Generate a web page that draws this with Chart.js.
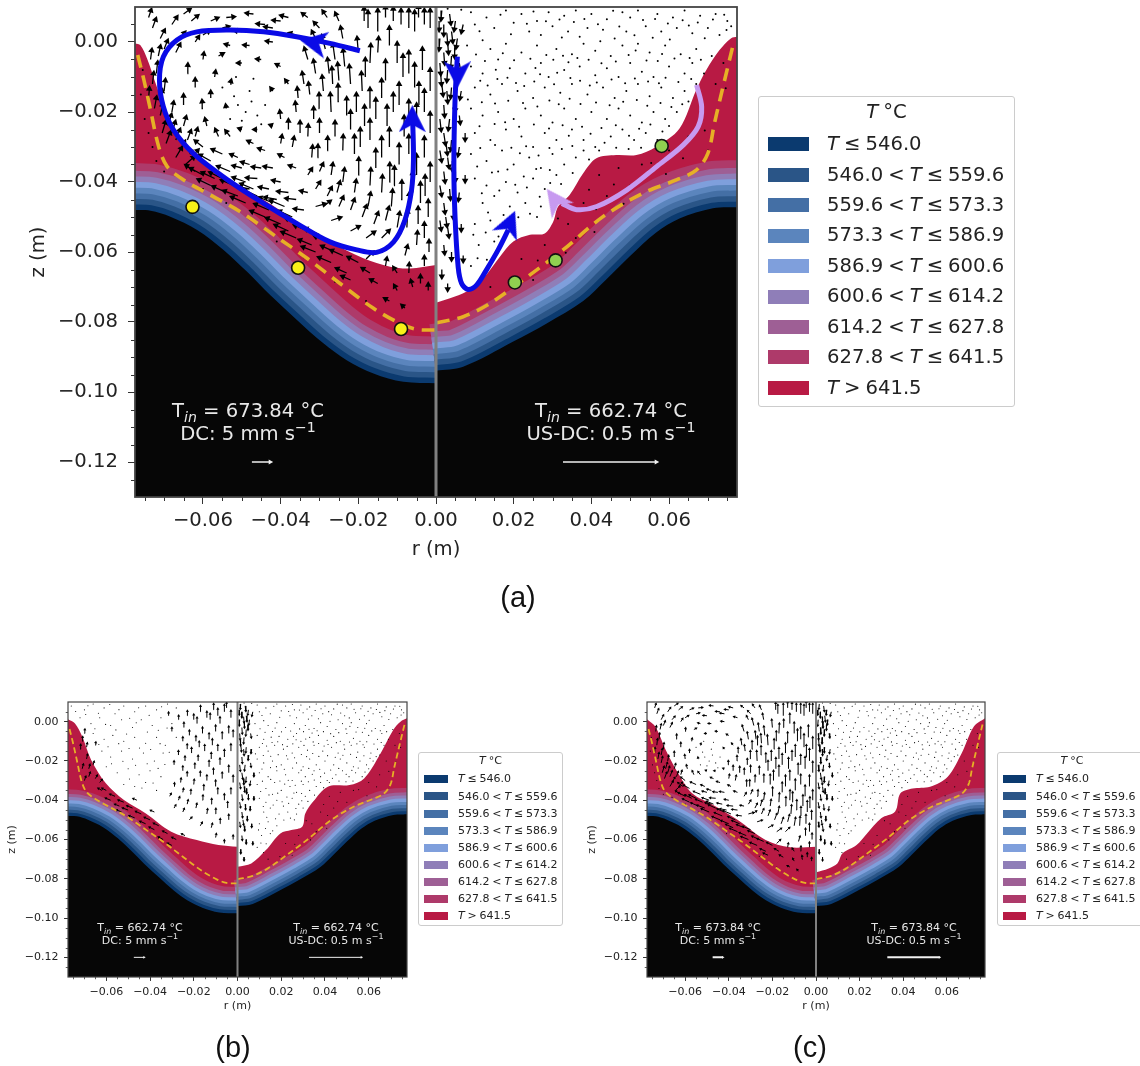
<!DOCTYPE html>
<html lang="en">
  <head>
    <meta charset="UTF-8" />
    <title>Melt pool temperature, DC and US-DC</title>
    <script src="https://cdn.jsdelivr.net/npm/chart.js"></script>
    <style>
      html, body { margin: 0; background: #fff; }
      #page { position: relative; width: 1140px; height: 1066px; overflow: hidden; font-family: "DejaVu Sans", sans-serif; color: #222; filter: blur(0.4px); }
      canvas { position: absolute; }
      .note { position: absolute; transform: translateX(-50%); text-align: center; color: #e8e8e8; white-space: nowrap; }
      .note sub, .note sup { line-height: 0; font-size: 72%; }
      .legend { position: absolute; box-sizing: border-box; background: #fff; border: 1px solid #ccc; border-radius: 3px; word-spacing: -0.06em; }
      .legend div { position: absolute; white-space: nowrap; }
      .caption { position: absolute; transform: translateX(-50%); font-family: "Liberation Sans", sans-serif; font-size: 29px; color: #111; }
    </style>
  </head>
  <body>
    <div id="page"></div>

    <script>
      // all lengths in mm, tick labels are printed in m like the original
      const rTicks = [-60, -40, -20, 0, 20, 40, 60];
      const zTicks = [0, -20, -40, -60, -80, -100, -120];
      const rMinor = [-75, -70, -65, -55, -50, -45, -35, -30, -25, -15, -10, -5, 5, 10, 15, 25, 30, 35, 45, 50, 55, 65, 70, 75];
      const zMinor = [5, -5, -10, -15, -25, -30, -35, -45, -50, -55, -65, -70, -75, -85, -90, -95, -105, -110, -115, -125];

      const tempEdges = [546.0, 559.6, 573.3, 586.9, 600.6, 614.2, 627.8, 641.5];
      const bandColors = ["#0b3a6f", "#2a5587", "#446fa5", "#5b85bd", "#7f9fdc", "#8f7eb8", "#9e5f95", "#ae3a6a", "#b81a44"];
      // distance of each isotherm from the solid wall
      const bandDepth = [1.5, 3, 4.5, 6, 7.6, 9.1, 10.6, 12.7];

      // solid wall (black area)
      const moldLeftR = [-82, -77.4, -73.5, -68.4, -61.5, -54.7, -48.7, -42.7, -35.8, -29, -23, -16.1, -8.4, 0];
      const moldLeftZ = [-48, -48, -48.2, -49.9, -53.7, -59.4, -65.6, -72.3, -79.4, -86.1, -90.9, -94.7, -97.1, -97.5];
      const moldRightR = [0, 7, 19.9, 28.5, 37.9, 43.9, 49.9, 56.7, 62.7, 71.3, 77, 82];
      const moldRightZ = [-93.9, -92.8, -85.6, -80.4, -74, -67.8, -61.2, -54.4, -50.4, -47.5, -47.2, -47.2];

      // dashed line
      const dashLeftR = [-76.8, -75.2, -73.5, -71.4, -69.2, -65, -58.1, -50.4, -41.8, -33.2, -24.7, -16.1, -9.3, -5, 0];
      const dashLeftZ = [-3.7, -10.9, -19.4, -29.9, -35.6, -39.4, -43.7, -48.5, -55.1, -61.8, -69, -76.1, -80.4, -82.1, -82.3];
      const dashRightR = [0.2, 7, 13.9, 22.4, 32.7, 43, 53.3, 61.9, 67, 70, 71.7, 73.9, 76.4];
      const dashRightZ = [-80.2, -78.5, -74.7, -68, -59.4, -49.9, -43.2, -39.4, -36.6, -31.8, -23.2, -12.8, -1.3];

      // free surface of the red zone, panel (a)
      const surfLeftAR = [-77.5, -76.1, -74.4, -72.2, -70.1, -67.5, -64.5, -59.8, -53, -44.4, -35.8, -27.2, -18.7, -11.8, -6.7, 0];
      const surfLeftAZ = [-0.4, -0.9, -4.7, -11.8, -18.5, -25.1, -29.9, -34.7, -39.9, -45.1, -51.3, -57.1, -61.8, -64.2, -64.7, -63.7];
      const surfRightAR = [0, 3.6, 7.9, 12.2, 16.5, 19.9, 24.2, 28, 30.2, 31.4, 34.4, 37.9, 41.3, 46.4, 51.6, 56.7, 62.7, 67, 69.6, 73, 76, 77.5];
      const surfRightAZ = [-74.5, -73.2, -71.3, -67.5, -61.3, -57, -55.1, -54.7, -51.3, -47.1, -43.7, -37.5, -33.2, -32.3, -32.3, -29.9, -24.7, -13.7, -8, -2.3, 1.1, 1.5];

      // panel (b)
      const surfLeftBR = [-77.5, -74.4, -71, -66.9, -60.2, -51.9, -41.9, -30.3, -18.6, -8.7, 0];
      const surfLeftBZ = [1.2, -0.8, -7.6, -19.5, -31.4, -39.9, -46.7, -56, -60.3, -62.8, -63.7];
      const surfRightBR = [0, 6.3, 13, 19.6, 24.6, 29.6, 31, 34.6, 41.3, 51.2, 57.9, 64.6, 71.2, 74.5, 77.5];
      const surfRightBZ = [-73.9, -72.2, -65.4, -56.9, -55.2, -53.5, -46.7, -40.7, -33.1, -32.3, -28.9, -17.8, -4.2, 0, 1.7];

      // panel (c)
      const surfLeftCR = [-77.5, -73.7, -68.9, -63.2, -56.8, -47.2, -36, -23.1, -11.9, 0];
      const surfLeftCZ = [1.2, -2.5, -14.4, -26.3, -36.5, -42.4, -50, -60.3, -64, -63.7];
      const surfRightCR = [0, 5.8, 9.8, 12.2, 18.6, 23.4, 29.9, 36.3, 38.7, 44.3, 52.3, 60.4, 66.8, 72.4, 77.5];
      const surfRightCZ = [-76.7, -74.7, -72.2, -67, -62.8, -56.9, -49.2, -45.8, -36.5, -34, -33.1, -28, -16.1, -2.5, 1.7];

      // drawn flow lines in panel (a)
      const loopR = [-19.6, -27.3, -35.9, -44.4, -53, -61.6, -66.7, -70.2, -71.2, -70.2, -67.6, -62.5, -53, -44.4, -35.9, -27.3, -20.4, -15.3, -10.9, -8, -6.3, -5.8, -6];
      const loopZ = [-2.5, -0.4, 1.5, 2.9, 3.4, 2.9, 0.6, -4.2, -10.9, -18.5, -25.1, -31.8, -39.9, -46.1, -51.8, -57.1, -59.4, -60.1, -57.1, -50.9, -42.3, -33.7, -22.3];
      const plungeR = [5.5, 4.9, 4.6, 4.9, 5.7, 6.6, 8.3, 10.5, 13, 16, 18.6];
      const plungeZ = [-4.2, -16.6, -35.6, -49.9, -64.2, -69, -70.7, -69.4, -65.1, -59.4, -53.7];
      const sweepR = [67.1, 68.4, 67.5, 63.7, 56.8, 49.1, 41.4, 36.2, 32.4];
      const sweepZ = [-12.3, -18.5, -24.2, -29.4, -35.6, -42.3, -47, -47.9, -46.1];
      const blueHeadR = [-31.6, -6.1, 5.5, 19];
      const blueHeadZ = [-0.2, -21.9, -9.4, -51.8];
      const blueHeadAngle = [-79, 0, 180, 23];
      const lilacHeadR = [30.6];
      const lilacHeadZ = [-45.1];
      const lilacHeadAngle = [-36];

      const yellowR = [-62.7, -35.5, -9];
      const yellowZ = [-47.1, -64.5, -82];
      const greenR = [20.3, 30.8, 58.1];
      const greenZ = [-68.7, -62.4, -29.7];

      // scale arrows printed in the black area: r, z, dr, dz
      const keyArrows = [[-47.4, -120, 4.7, 0], [32.7, -120, 24, 0]];

      // quiver, strong vortex on the DC side: r, z, dr, dz
      const vortexArrows = [
        [-17.5, 4, 0, 4.5], [-15, 3, 0, 6], [-11, 6, 0, 3.5], [-9, 5, 0, 4], [-7, 4, 0, 5], [-5.5, 3, 0, 5.5], [-3, 5, 0, 4], [-1.5, 4, 0, 5],
        [-17, -6, 0.2, 5], [-15, -3, 0.2, 4], [-10, -6, 0, 5.5], [-8.5, -10, 0, 6], [-7, -9, 0, 6], [-5.5, -13, 0, 6.5], [-3.5, -8, 0, 6], [-1.5, -14, 0, 6],
        [-11, -20, 0, 5], [-9.5, -18, 0, 6], [-7, -22, 0, 5], [-5, -24, 0, 6], [-3, -20, 0, 6], [-1.5, -26, 0, 5.5], [-14, -16, 0, 5], [-17, -19, 0, 5.5],
        [-19, -14, -0.2, 5], [-22, -12, -0.3, 5], [-23.5, -7, -0.4, 4.5], [-26, -5, -0.5, 4], [-28.5, -2, -0.8, 3.5], [-20, -3, -0.3, 4],
        [-25, -17, -0.2, 4.5], [-27, -20, -0.2, 5], [-29, -14, -0.3, 4], [-31, -9, -0.5, 3.5], [-33, -5, -0.8, 3], [-32.5, -15, -0.3, 3], [-34, -12, -0.4, 3],
        [-22, -25, 0, 5], [-19.5, -30, 0, 5], [-17, -28, 0, 5.5], [-14, -33, 0, 5.5], [-12, -30, 0, 5], [-9.5, -35, 0, 5.5], [-7, -32, 0, 5], [-5, -38, 0, 5.5], [-3, -33, 0, 5.5], [-1.5, -40, 0, 5],
        [-24, -31, 0.1, 4], [-26, -27, 0, 4], [-28, -31, 0.1, 3.5], [-30, -26, 0, 3.5], [-31.5, -22, 0, 3], [-33, -27, 0.1, 3], [-36, -20, -0.2, 2.5], [-38, -25, 0, 2.5], [-40, -22, -0.2, 2], [-37, -30, 0.4, 2.5], [-40, -29, 0.3, 2],
        [-20, -38, 0.1, 4.5], [-17, -41, 0.2, 4.5], [-14, -43, 0.2, 4.5], [-12, -40, 0.1, 5], [-9, -45, 0.2, 5], [-7, -48, 0.1, 4.5], [-4, -46, 0, 5.5], [-2, -50, 0, 4.5], [-24, -40, 0.4, 3.5], [-27, -38, 0.4, 3],
        [-10, -53, 0.6, 4], [-13, -51, 0.8, 3.5], [-16, -52, 1, 3], [-19, -50, 1, 3], [-22, -48, 0.9, 2.8], [-25, -47, 1, 2.5], [-28, -44, 1, 2.2], [-31, -42, 1, 1.8], [-30, -37, 0.8, 2], [-33, -38, 0.9, 1.6],
        [-5, -58, 0.2, 3.5], [-8, -61, 0.6, 2.5], [-3, -56, 0, 4], [-14, -56, 1.8, 2], [-18, -56, 2, 1.6], [-22, -54, 2, 1.2], [-27, -51, 2.2, 0.8], [-31, -47, 2.2, 0.7],
        [-34, -48, -2.2, 0.3], [-38, -43, -2.5, 0.3], [-43, -42, -2.2, 0.5], [-46, -39, -2.5, 0.2], [-36, -36, -1.5, 0.6], [-42, -36, -2, 0.4], [-48, -35, -1.8, 0.6], [-51, -33, -1.6, 0.8], [-44, -31, -1.4, 0.5], [-47, -29, -1.2, 0.6],
        [-56, -27, -0.7, 1.8], [-59, -24, -0.4, 1.8], [-53, -27, -1, 1.4], [-60, -19, -0.2, 2], [-62, -13, 0, 2.2], [-64, -9, 0.1, 2.4], [-58, -16, 0, 1.6], [-65, -18, 0, 2.6], [-57, -10, 0.2, 1.4],
        [-71, 1, 1, 2.2], [-73, 4, 0.8, 2.4], [-68, 5, 1.2, 2], [-66, 1, 1.2, 1.6], [-70, -2, 0.8, 2.2], [-63, 6, 1.5, 1.4], [-60, 2, 1.4, 1], [-58, 6, 1.6, 0.8],
        [-54, 7, 1.8, 0.2], [-50, 3, -1.6, 0.2], [-47, 8, -1.6, 0.2], [-44, 5, -1.8, 0.2], [-42, 0, -1.4, 0.2], [-38, 7, -1.7, 0.5], [-36, 2, -1.5, 0.5], [-33, 7, -1.2, 1], [-30, 4, -1.2, 1.4], [-48, -1, -1.2, 0.1], [-53, -1, -1, 0.3], [-25, 6, -0.8, 2],
        [-56, -4, 1, 0.6], [-50, -6, -0.8, 0], [-45, -5, -0.9, 0.1], [-40, -7, -0.9, 0.5], [-38, -12, -0.6, 0.9], [-42, -14, -0.4, 0.6], [-53, -12, 0.2, 0.8], [-54, -19, -0.1, 0.7], [-50, -25, -0.5, 0.2], [-46, -25, -0.6, 0], [-42, -24, -0.5, 0.2],
        [-68, -20, 0.4, 2.6], [-70, -14, 0.3, 3], [-72, -9, 0.3, 3], [-71, -17, 0.5, 3], [-69, -24, 0.8, 3], [-67, -28, 1, 2.8], [-65, -24, 0.6, 2.4], [-66, -31, 1.2, 2.4], [-63, -33, 1.6, 2], [-72.5, -19, 0.5, 3], [-70.5, -26, 0.8, 3],
        [-60, -30, -1.8, 1.6], [-58, -34, -2.6, 1.6], [-55, -32, -2.4, 1.2], [-62, -37, -2.2, 1.6], [-57, -39, -3, 1.6], [-53, -37, -3, 1.4], [-49, -40, -3, 1.2], [-51, -44, -3.4, 1.4], [-46, -44, -3.2, 1.6], [-43, -48, -3.4, 1.6], [-39, -47, -3.4, 1.6], [-35, -52, -3.4, 1.6], [-38, -54, -3.2, 1.6], [-30, -55, -3.4, 1.6], [-26, -60, -3.2, 1.6], [-32, -58, -3, 1.4],
        [-20, -63, -2.4, 1.4], [-15, -69, -1.6, 1], [-22, -68, -2, 1], [-10, -66, -0.8, 1.4], [-6, -70, -0.4, 1.6], [-3, -64, 0, 2.4], [-12, -74, -1, 0.6], [-8, -76, -0.6, 0.6], [-18, -62, 1.6, 1.8],
        // second pass over the denser clumps
        [-18.5, 6, 0, 3.5], [-13, 7, 0, 2.8], [-4.5, 7, 0, 3], [-12, -1, 0, 5], [-18.2, -10, 0, 5], [-13, -11, 0, 5.5], [-4.4, -18, 0, 6], [-8.2, -27, 0, 5.5], [-12.6, -24, 0, 5.5], [-15.5, -22, 0, 5.5], [-18.4, -24, 0, 5.5],
        [-20.5, -20, 0, 5], [-21, -32, 0, 5], [-23, -21, 0, 4.8], [-26.6, -12, -0.2, 4.4], [-25, -11, -0.3, 4.6], [-27.5, -9, -0.4, 4], [-30, -19, -0.1, 4], [-30.5, -33, 0.1, 3.2], [-32, -33, 0.2, 3], [-35, -26, 0, 3], [-35.5, -16, -0.2, 2.6],
        [-15.5, -36, 0, 5], [-10.8, -41, 0.1, 5], [-6, -43, 0, 5.5], [-2.8, -44, 0, 5.5], [-7.5, -53, 0.2, 4.5], [-4.6, -52, 0, 4.5], [-11.5, -47, 0.3, 4.4], [-17.5, -47, 0.6, 3.6], [-21, -43, 0.4, 3.2], [-25.5, -43, 0.7, 2.8], [-29, -47, 1.6, 1.4],
        [-40, -40, -1.8, 0.4], [-45, -36, -2, 0.3], [-50, -36, -2, 0.6], [-39, -33, -1.2, 0.7], [-33, -43, -1.6, 0.4], [-36, -45, -2.4, 0.3], [-48, -42, -2.6, 0.6], [-41, -45, -2.8, 0.6],
        [-71.5, -4, 0.5, 2.6], [-67, -3, 1, 2.2], [-74, 7, 0.6, 2], [-65, 8, 1.5, 1.2], [-62, 0, 0.8, 1.4], [-60, -5, 0.2, 1.6], [-55, 4, 1.4, 0.4], [-42, 4, -1.8, 0.3], [-40, 6, -1.7, 0.2], [-28, 7, -1, 1.6], [-31, 1, -0.8, 1.8], [-24, 1, -0.5, 3],
        [-73, -12, 0.3, 3], [-74, -16, 0.2, 2.6], [-73.5, -5, 0.3, 2.6], [-71, -21, 0.6, 3], [-69.5, -29, 1, 3], [-68, -26, 0.8, 3], [-67, -33, 1.4, 2.6], [-64.5, -35, 2, 2], [-64, -28, 0.8, 2.4], [-62, -27, 0.5, 2],
        [-61, -33, -2.2, 1.8], [-60, -38, -3, 1.8], [-58, -41, -3, 1.6], [-55, -39, -3, 1.6], [-54, -43, -3.2, 1.6], [-52, -41, -3, 1.4], [-49, -46, -3.4, 1.6], [-47, -42, -3, 1.4], [-44, -50, -3.4, 1.6], [-42, -46, -3.2, 1.5], [-40, -52, -3.4, 1.6], [-37, -50, -3.2, 1.6], [-36, -56, -3.4, 1.6], [-33, -54, -3.2, 1.5], [-31, -60, -3.2, 1.4], [-28, -57, -3, 1.4], [-27, -63, -3, 1.4], [-24, -61, -2.8, 1.4], [-23, -66, -2.4, 1.2], [-17, -66, -1.8, 1.2],
        [-13, -64, 0.3, 2], [-7, -66, 0.1, 2.4], [-4, -69, 0, 2], [-1.8, -60, 0, 3], [-10, -71, -0.6, 1.2], [-2, -71, 0, 1.6]
      ];

      // quiver, weak stirring in panel (b)
      const weakArrows = [
        [-3, 2, 0, 3.5], [-6, 5, 0, 3.5], [-9, 3, 0, 3.5], [-11, 6, 0.1, 3], [-14, 2, 0, 3], [-17, 5, 0.1, 3], [-20, 1, 0, 2.6], [-23, 3, 0.1, 2.4],
        [-4, -6, 0, 3.5], [-7, -9, 0, 3.5], [-10, -5, 0, 3], [-13, -9, 0, 3], [-16, -6, 0, 3], [-19, -10, 0, 2.5], [-22, -7, 0, 2.5], [-25, -10, 0, 2],
        [-3, -15, 0, 3.5], [-6, -18, 0, 3.5], [-9, -15, 0, 3], [-12, -19, 0, 3], [-15, -15, 0, 3], [-18, -20, 0, 2.6], [-21, -16, 0, 2.5], [-24, -20, 0, 2.2], [-27, -17, 0, 2], [-29, -22, 0, 1.8],
        [-4, -26, 0, 3.5], [-7, -29, 0, 3], [-11, -27, 0, 3], [-14, -30, 0, 2.6], [-17, -28, 0, 2.5], [-20, -32, 0.2, 2.4], [-23, -28, 0, 2.2], [-26, -31, 0.2, 2], [-29, -33, 0.2, 1.6],
        [-3, -37, 0, 3], [-6, -40, 0, 3], [-9, -37, 0, 3], [-12, -42, 0.2, 2.6], [-16, -40, 0.2, 2.4], [-19, -44, 0.4, 2.2], [-23, -42, 0.4, 2], [-27, -40, 0.5, 1.6], [-31, -38, 0.6, 1.3],
        [-4, -50, 0, 2.6], [-8, -52, 0.1, 2.4], [-12, -54, 0.5, 2], [-17, -53, 0.8, 1.6], [-22, -50, 1, 1.2], [-2, -60, 0, 2], [-6, -62, 0, 1.6],
        [-70, -6, 0.2, 2], [-72, -14, 0.3, 2.2], [-69, -19, 0.4, 2.2], [-71, -24, 0.5, 2.2], [-68, -28, 0.6, 2], [-66, -22, 0.4, 1.6], [-65, -12, 0.2, 1.4], [-63, -31, 1, 1.4], [-60, -35, -1.8, 1],
        [-56, -38, -2.2, 1], [-52, -41, -2.4, 1], [-48, -44, -2.4, 1.1], [-44, -47, -2.4, 1.2], [-40, -50, -2.4, 1.2], [-36, -53, -2.2, 1.2], [-32, -57, -2, 1.2], [-28, -60, -1.8, 1], [-54, -43, -2, 0.9], [-46, -40, -1.6, 0.8], [-38, -46, -1.6, 0.8],
        // second pass
        [-5, 7, 0, 2.6], [-12.5, 1, 0, 3], [-18.5, -1, 0, 3], [-24.5, -3, 0, 2.4], [-27, 1, 0.1, 2], [-30, -5, 0, 1.8], [-31.5, 3, 0, 1.6], [-8, -1, 0, 3.2], [-2, -8, 0, 3.4], [-11.5, -12, 0, 3], [-17.5, -13, 0, 2.8], [-23, -14, 0, 2.4], [-8, -22, 0, 3.2], [-13, -23, 0, 3], [-19.5, -24, 0, 2.6], [-25, -25, 0, 2.2], [-2, -31, 0, 3.4], [-10, -33, 0, 3], [-15.5, -35, 0.1, 2.6], [-21.5, -37, 0.2, 2.2], [-25, -36, 0.3, 1.8], [-4.5, -44, 0, 3], [-10, -47, 0.1, 2.6], [-14, -47, 0.3, 2.4], [-25, -46, 0.6, 1.6], [-29, -44, 0.7, 1.4], [-10, -59, 0.3, 1.8],
        [-71, -10, 0.2, 2.2], [-69, -13, 0.3, 2], [-68, -24, 0.5, 2], [-65, -29, 0.8, 1.6], [-70, -30, 0.6, 2], [-62, -35, -1.6, 1], [-58, -40, -2.2, 1], [-50, -45, -2.4, 1], [-47, -49, -2.4, 1.1], [-42, -52, -2.4, 1.2], [-38, -55, -2.2, 1.2], [-34, -60, -2, 1.2], [-30, -63, -1.8, 1], [-24, -58, -1.4, 0.8], [-53, -46, -2.2, 1]
      ];

      // quiver next to the axis on the US-DC side, shared by all panels
      const jetArrows = [
        [1.5, 9, -0.2, -2.4], [3.5, 8, 0.3, -2.6], [5, 6, -0.3, -2.4], [2, 5, 0, -2.8], [4, 3, 0.3, -2.8], [1, 1, -0.2, -3], [3, 0, 0.2, -3], [5.5, 1, -0.3, -2.4], [7, 5, -0.4, -2], [2, -3, 0.2, -3],
        [4, -4, -0.2, -3], [1, -6, 0.2, -3], [3, -8, -0.2, -3], [6, -6, 0.3, -2], [1.5, -12, 0.3, -3], [4, -13, -0.2, -2.6], [6.5, -14, -0.3, -2], [2, -18, 0.2, -3], [1, -22, 0.3, -3], [3.5, -22, -0.3, -2.8],
        [6, -21, 0.2, -2], [2, -26, 0.4, -3], [4, -28, -0.2, -2.6], [1, -31, 0.4, -2.8], [3, -33, 0.3, -2.6], [6, -30, -0.3, -2.2], [2, -37, 0.3, -2.8], [5, -37, 0, -2.4], [1, -41, 0.4, -2.6], [3.5, -42, 0.2, -2.6],
        [6, -43, -0.2, -2], [2, -46, 0.3, -2.6], [4.5, -48, 0, -2.2], [1, -51, 0.3, -2.4], [3, -53, 0.3, -2.4], [2, -58, 0.2, -2.2], [4, -60, 0, -2], [1.5, -65, 0, -2], [3, -69, 0, -1.6],
        [0.8, 6, 0, -2.4], [2.8, 2.5, 0.2, -2.8], [4.8, -1.5, 0, -2.6], [1.2, -9, 0.2, -3], [2.8, -14, 0.2, -3], [5.2, -17, -0.3, -2.4], [2.6, -29, 0.3, -2.8], [7.5, -26, 0, -1.8], [4.2, -34, 0, -2.4], [7.5, -38, 0, -1.6], [2.5, -50, 0.3, -2.4], [6.5, -52, 0, -1.6], [7, -61, 0, -1.4]
      ];

      // small dots: almost still melt on the US-DC side, r, z
      const stillDots = [
        [3, 9.5], [9, 8.5], [13, 7], [18, 9], [22, 8], [26, 6], [29, 8.5], [33, 7.5], [36, 9], [40, 8], [44, 6.5], [48, 8.5], [50, 7], [52, 9], [57, 8], [61, 7], [64, 9], [68, 7.5], [72, 8], [75, 6],
        [10, 5], [15, 4], [20, 5.5], [24, 3], [27, 2], [30, 4.5], [34, 3], [37, 1.5], [39, 4], [43, 3.5], [46, 1], [49, 3], [54, 4.5], [58, 3], [62, 4], [66, 2.5], [70, 4], [73, 2], [76, 4.5], [12, 0.5],
        [8, -1], [14, -2], [18, -0.5], [22, -3], [26, -1], [31, -2], [35, -3.5], [38, -0.5], [41, -2.5], [45, -4], [48, -1], [52, -0.5], [55, -3], [59, -1], [63, -3.5], [67, -2], [71, -4], [16, -5],
        [9, -7], [12, -9], [19, -7.5], [23, -9], [27, -6], [29, -10], [33, -8], [37, -7], [41, -9.5], [44, -7.5], [47, -10], [50, -6], [53, -8.5], [56, -10], [60, -7], [64, -9], [66, -6], [69, -9],
        [10, -13], [14, -15], [17, -12], [21, -14], [25, -16], [28, -13], [32, -14.5], [35, -12], [39, -15], [43, -13], [46, -16], [49, -14], [52, -12], [55, -15.5], [58, -13], [61, -16], [64, -14], [67, -12],
        [9, -19], [12, -21], [16, -20], [20, -22], [23, -19], [27, -21], [30, -23], [33, -19], [36, -22], [40, -20], [44, -22], [47, -19], [50, -21], [53, -23], [56, -20], [59, -22], [62, -20], [65, -17],
        [10, -26], [14, -28], [18, -25], [22, -27], [25, -30], [28, -26], [31, -28], [35, -25], [38, -28], [41, -30], [45, -27], [48, -25], [51, -28], [54, -26], [57, -28], [60, -24],
        [9, -32], [13, -34], [17, -31], [20, -35], [24, -33], [27, -36], [30, -32], [33, -35], [36, -33], [38, -31], [42, -31], [16, -37],
        [10, -39], [13, -41], [18, -40], [21, -43], [25, -39], [28, -42], [31, -38], [12, -46], [15, -44], [19, -47], [23, -46], [27, -47], [30, -44], [26, -50], [10, -52], [14, -51], [18, -53], [11, -58], [15, -57], [9, -64],
        [42, -38], [47, -36], [53, -35], [50, -41], [38, -46], [44, -44], [34, -52], [28, -58], [22, -62], [36, -56], [60, -31], [65, -27], [68, -20], [72, -12], [74, -6], [70, -31], [14, -70], [25, -68],
        // second pass, clumps between the rows above
        [6.5, 9.2], [11.2, 3.1], [16.6, 7.8], [19.3, 2.2], [23.4, 5.2], [25.1, 8.7], [28.3, 5.9], [31.8, 6.4], [32.4, 1.3], [35.5, 5.7], [38.2, 6.6], [41.7, 5.1], [42.3, 0.2], [45.6, 8.9], [47.2, 4.4], [51.1, 1.9], [53.3, 6.3], [55.8, 1.2], [56.4, 6.6], [59.7, 5.3], [60.2, 0.7], [63.5, 6.2], [65.1, 4.7], [67.4, 5.6], [69.2, 1.1], [71.3, 6.4], [74.2, 7.8], [74.8, 3.4],
        [10.3, -3.6], [12.6, -5.4], [15.4, -7.9], [17.2, -3.2], [20.1, -5.2], [24.3, -4.8], [25.6, -7.4], [28.4, -3.7], [30.2, -5.1], [32.7, -3.9], [34.1, -5.8], [36.4, -4.6], [39.3, -5.1], [42.6, -6.1], [46.3, -5.6], [49.6, -3.7], [51.4, -2.4], [54.2, -5.3], [57.1, -5.4], [58.2, -3.4], [61.4, -4.7], [65.3, -4.6], [68.2, -5.1],
        [11.4, -11.1], [13.3, -12.4], [15.8, -10.6], [18.4, -10.2], [20.6, -11.7], [22.7, -12.6], [25.3, -11.3], [26.8, -9.2], [30.4, -12.1], [31.2, -8.8], [34.6, -10.3], [37.1, -11.1], [39.6, -12.4], [41.4, -11.6], [45.2, -10.7], [48.7, -11.8], [51.2, -10.4], [54.6, -11.3], [57.4, -11.8], [59.1, -10.2], [62.4, -11.4], [65.7, -10.6],
        [8.2, -16.4], [11.8, -17.2], [15.2, -17.6], [18.6, -16.8], [22.4, -17.4], [26.1, -18.4], [29.2, -16.7], [31.6, -17.8], [34.4, -16.2], [37.2, -17.7], [41.2, -17.3], [44.7, -18.1], [48.2, -17.1], [51.7, -16.6], [54.4, -18.2], [57.8, -17.4], [60.6, -18.6], [63.4, -17.8],
        [11.2, -24.1], [15.1, -23.4], [17.8, -22.9], [21.4, -24.2], [25.2, -23.6], [29.1, -24.7], [32.6, -23.8], [34.2, -26.8], [37.6, -24.2], [39.8, -26.2], [42.6, -24.6], [46.3, -23.8], [49.7, -26.8], [52.3, -24.8], [55.2, -23.6], [58.3, -25.6],
        [11.4, -30.3], [15.2, -29.4], [19.4, -30.2], [21.6, -31.8], [23.2, -29.8], [26.4, -32.4], [29.2, -30.3], [32.4, -30.6], [35.1, -29.7], [39.4, -33.6], [43.4, -28.8], [46.4, -30.2], [49.6, -30.6], [52.8, -30.2],
        [10.6, -35.6], [14.4, -37.3], [18.4, -36.4], [22.6, -38.4], [25.8, -36.3], [29.3, -36.6], [32.2, -40.6], [35.2, -37.4], [11.8, -43.2], [16.3, -42.4], [20.4, -40.8], [23.4, -41.6], [26.7, -44.2], [29.4, -40.3], [13.4, -48.7], [17.4, -49.4], [21.2, -50.1], [24.2, -49.1], [9.6, -55.1], [12.8, -54.4], [16.1, -55.6], [10.7, -61.8], [13.1, -62.2], [11.9, -66.6],
        [39.4, -42.2], [45.8, -40.7], [55.4, -34.6], [59.2, -37.7], [63.6, -33.2], [31.4, -50.4], [41.2, -47.8], [48.3, -46.2], [26.2, -62.4], [33.4, -60.2], [40.8, -54.3], [19.4, -68.7], [69.2, -25.3], [72.4, -20.6], [74.6, -13.2]
      ];

      // small dots near the vortex eye and inside the red zone, panels (a) and (c)
      const vortexDots = [
        [-51, -18], [-49, -20], [-47.5, -17], [-50, -22.5], [-46, -21], [-52, -15.5], [-48, -14], [-44, -18], [-53, -22], [-45, -23.5], [-55, -13], [-51.5, -10], [-47, -10.5],
        [-74, -26], [-73, -30], [-75, -22], [-72, -34], [-70, -37], [-66, -38.5], [-60, -42], [-54, -46], [-48, -50], [-41, -57], [-34, -61.5], [-26, -68.5], [-18, -74], [-76, -15], [-75.5, -8]
      ];

      // small dots in the weak part of panel (b)
      const weakDots = [
        [-76, 8], [-70, 6], [-66, 9], [-61, 7], [-56, 4], [-52, 8], [-47, 5], [-42, 8], [-37, 6], [-32, 9], [-28, 7], [-72, 2], [-67, -1], [-63, 2], [-58, -2], [-53, 1], [-48, -3], [-44, 1], [-39, -2], [-35, 2], [-30, -1],
        [-66, -6], [-61, -9], [-57, -7], [-52, -10], [-47, -8], [-42, -11], [-37, -8], [-33, -12], [-28, -8], [-62, -15], [-58, -18], [-53, -15], [-48, -19], [-43, -16], [-38, -20], [-34, -16], [-60, -23], [-55, -26], [-50, -24], [-45, -27], [-40, -25], [-35, -28], [-52, -32], [-47, -33], [-42, -31], [-37, -35],
        [-74, 5.2], [-68.4, 8.1], [-63.6, 4.3], [-58.4, 8.7], [-54.2, 6.1], [-49.3, 1.7], [-45.2, 7.1], [-40.4, 3.2], [-34.7, 7.6], [-69.4, 3.6], [-65.2, -3.6], [-60.3, -1.4], [-55.6, -4.2], [-50.7, -6.3], [-46.3, -0.6], [-41.2, -5.3], [-36.2, -4.4], [-32.2, -3.2], [-63.4, -11.6], [-59.2, -12.8], [-54.3, -11.2], [-49.6, -13.7], [-44.8, -13.4], [-39.7, -14.2], [-35.4, -11.2], [-31.2, -15.6], [-57.6, -21.4], [-52.4, -20.2], [-46.6, -22.2], [-41.3, -21.4], [-36.3, -23.8], [-33.2, -21.8], [-49.4, -29.2], [-43.7, -33.8], [-38.6, -31.2]
      ];

      const panels = [
        { id: "a", left: 0, top: 0, width: 750, height: 570, plotLeft: 135, plotRight: 737, plotTop: 7, plotBottom: 497, k: 1, titlePad: 27, rTitlePad: 8, tickPad: 5,
          surfL: [surfLeftAR, surfLeftAZ], surfR: [surfRightAR, surfRightAZ], arrows: vortexArrows, extraDots: vortexDots,
          caption: "(a)", captionX: 518, captionY: 581, tempL: "673.84", tempR: "662.74", noteL: 248, noteR: 611, noteTop: 400, keyWidth: 1.5 },
        { id: "b", left: 0, top: 690, width: 415, height: 340, plotLeft: 68, plotRight: 407, plotTop: 12, plotBottom: 287, k: 0.563, titlePad: 6, rTitlePad: 17, tickPad: 8,
          surfL: [surfLeftBR, surfLeftBZ], surfR: [surfRightBR, surfRightBZ], arrows: weakArrows, extraDots: weakDots,
          caption: "(b)", captionX: 233, captionY: 1031, tempL: "662.74", tempR: "662.74", noteL: 140, noteR: 336, noteTop: 922, keyWidth: 1 },
        { id: "c", left: 585, top: 690, width: 408, height: 340, plotLeft: 62, plotRight: 400, plotTop: 12, plotBottom: 287, k: 0.563, titlePad: 1, rTitlePad: 17, tickPad: 8,
          surfL: [surfLeftCR, surfLeftCZ], surfR: [surfRightCR, surfRightCZ], arrows: vortexArrows, extraDots: vortexDots,
          caption: "(c)", captionX: 810, captionY: 1031, tempL: "673.84", tempR: "673.84", noteL: 718, noteR: 914, noteTop: 922, keyWidth: 2 }
      ];

      const page = document.getElementById("page");
      const zip = (rs, zs) => rs.map((r, i) => ({ x: r, y: zs[i] }));
      const mmToM = (v) => (v / 1000).toFixed(2).replace("-", "\u2212");

      function lineSet(points, extra) {
        return Object.assign({ type: "scatter", data: points, showLine: true, pointRadius: 0, clip: 0, borderWidth: 0, tension: 0.33, capBezierPoints: false }, extra);
      }

      // red zone, isotherm bands as thick strokes on the wall, black solid on top
      function fieldSets(p, pxMm) {
        const sets = [];
        [p.surfL, p.surfR].forEach((s) => {
          sets.push(lineSet(zip(s[0], s[1]), { fill: "start", backgroundColor: bandColors[8], borderColor: bandColors[8] }));
        });
        [[moldLeftR, moldLeftZ], [moldRightR, moldRightZ]].forEach((m) => {
          for (let i = bandDepth.length - 1; i >= 0; i--) {
            sets.push(lineSet(zip(m[0], m[1]), { borderColor: bandColors[i], borderWidth: 2 * bandDepth[i] * pxMm, borderJoinStyle: "round" }));
          }
          sets.push(lineSet(zip(m[0], m[1]), { fill: "start", backgroundColor: "#060606", borderColor: "#060606" }));
        });
        return sets;
      }

      // quiver as line pieces with a rotated triangle on the tip
      function quiverSets(rows, color, lineWidth, headRadius, pxR, pxZ) {
        const shafts = [];
        const tips = [];
        const angles = [];
        rows.forEach(([r, z, dr, dz]) => {
          shafts.push({ x: r, y: z }, { x: r + dr, y: z + dz }, { x: null, y: null });
          tips.push({ x: r + dr, y: z + dz });
          angles.push((Math.atan2(dr * pxR, dz * pxZ) * 180) / Math.PI);
        });
        return [
          lineSet(shafts, { tension: 0, borderColor: color, borderWidth: lineWidth }),
          { type: "scatter", data: tips, clip: 0, pointStyle: "triangle", pointRadius: headRadius, pointBorderWidth: 0, pointBackgroundColor: color, pointRotation: (c) => angles[c.dataIndex] }
        ];
      }

      function headGlyph(color, w, h) {
        const c = document.createElement("canvas");
        c.width = w;
        c.height = h;
        const g = c.getContext("2d");
        g.fillStyle = color;
        g.beginPath();
        g.moveTo(w / 2, 0);
        g.lineTo(w, h);
        g.lineTo(w / 2, h * 0.72);
        g.lineTo(0, h);
        g.closePath();
        g.fill();
        return c;
      }

      const frameTicks = {
        id: "frameTicks",
        afterDraw(chart, args, opts) {
          const { ctx, chartArea: a, scales } = chart;
          ctx.save();
          ctx.strokeStyle = "#333";
          ctx.lineWidth = opts.k < 1 ? 0.8 : 1;
          ctx.beginPath();
          rMinor.forEach((v) => {
            const x = Math.round(scales.x.getPixelForValue(v)) + 0.5;
            ctx.moveTo(x, a.bottom);
            ctx.lineTo(x, a.bottom + 4 * opts.k);
          });
          zMinor.forEach((v) => {
            const y = Math.round(scales.y.getPixelForValue(v)) + 0.5;
            ctx.moveTo(a.left, y);
            ctx.lineTo(a.left - 4 * opts.k, y);
          });
          ctx.stroke();
          ctx.strokeStyle = "#444";
          ctx.lineWidth = opts.k < 1 ? 1.2 : 1.8;
          ctx.strokeRect(a.left, a.top, a.right - a.left, a.bottom - a.top);
          ctx.restore();
        }
      };

      function drawPanel(p) {
        const k = p.k;
        const canvas = document.createElement("canvas");
        canvas.width = p.width;
        canvas.height = p.height;
        canvas.style.left = p.left + "px";
        canvas.style.top = p.top + "px";
        page.appendChild(canvas);

        const pxR = (p.plotRight - p.plotLeft) / 155;
        const pxZ = (p.plotBottom - p.plotTop) / 140;
        const pxMm = (pxR + pxZ) / 2;

        // listed bottom to top, reversed below because chart.js paints the first dataset last
        let sets = fieldSets(p, pxMm);
        sets.push({ type: "scatter", data: stillDots.concat(p.extraDots).map(([r, z]) => ({ x: r, y: z })), clip: 0, pointRadius: k < 1 ? 0.55 : 1, pointBorderWidth: 0, pointBackgroundColor: "#000" });
        sets = sets.concat(quiverSets(p.arrows, "#000", k < 1 ? 1 : 1.3, k < 1 ? 1.8 : 3.8, pxR, pxZ));
        sets = sets.concat(quiverSets(jetArrows, "#000", k < 1 ? 1 : 1.3, k < 1 ? 1.8 : 3.8, pxR, pxZ));

        const dashStyle = { borderColor: "#e6b026", borderWidth: k < 1 ? 1.8 : 3.6, borderDash: k < 1 ? [6, 3.5] : [13, 8] };
        sets.push(lineSet(zip(dashLeftR, dashLeftZ), dashStyle));
        sets.push(lineSet(zip(dashRightR, dashRightZ), dashStyle));
        sets.push(lineSet([{ x: 0, y: 10 }, { x: 0, y: -130 }], { tension: 0, borderColor: "#808080", borderWidth: k < 1 ? 2 : 3 }));
        sets = sets.concat(quiverSets(keyArrows, "#f0f0f0", p.keyWidth, k < 1 ? 1.6 : 3, pxR, pxZ));

        if (p.id === "a") {
          const blue = "#0a0ae6";
          const lilac = "#c79af0";
          const streamStyle = { borderCapStyle: "butt", borderWidth: 5 };
          sets.push(lineSet(zip(loopR, loopZ), Object.assign({ borderColor: blue }, streamStyle)));
          sets.push(lineSet(zip(plungeR, plungeZ), Object.assign({ borderColor: blue }, streamStyle)));
          sets.push(lineSet(zip(sweepR, sweepZ), Object.assign({ borderColor: lilac }, streamStyle)));
          sets.push({ type: "scatter", data: zip(blueHeadR, blueHeadZ), clip: 0, pointRadius: 8, pointStyle: headGlyph(blue, 27, 27), pointRotation: (c) => blueHeadAngle[c.dataIndex] });
          sets.push({ type: "scatter", data: zip(lilacHeadR, lilacHeadZ), clip: 0, pointRadius: 8, pointStyle: headGlyph(lilac, 27, 27), pointRotation: (c) => lilacHeadAngle[c.dataIndex] });
          sets.push({ type: "scatter", data: zip(yellowR, yellowZ), clip: 0, pointRadius: 6.5, pointBorderWidth: 1.6, pointBorderColor: "#111", pointBackgroundColor: "#f8f018" });
          sets.push({ type: "scatter", data: zip(greenR, greenZ), clip: 0, pointRadius: 6.5, pointBorderWidth: 1.6, pointBorderColor: "#111", pointBackgroundColor: "#90d050" });
        }

        const tickFont = { family: "'DejaVu Sans'", size: 19.6 * k };
        new Chart(canvas, {
          type: "scatter",
          data: { datasets: sets.reverse() },
          plugins: [frameTicks],
          options: {
            responsive: false,
            animation: false,
            layout: { autoPadding: false, padding: { left: 0, top: p.plotTop, right: p.width - p.plotRight, bottom: 0 } },
            plugins: { legend: { display: false }, tooltip: { enabled: false }, frameTicks: { k: k } },
            scales: {
              x: {
                type: "linear", min: -77.5, max: 77.5,
                afterBuildTicks: (axis) => { axis.ticks = rTicks.map((v) => ({ value: v })); },
                // fix the plot box, chart.js would otherwise pad it for the tick labels
                afterFit: (axis) => { axis.height = p.height - p.plotBottom; axis.paddingLeft = 0; axis.paddingRight = 0; },
                grid: { drawOnChartArea: false, tickLength: 7 * k, tickColor: "#333" },
                border: { display: false },
                ticks: { autoSkip: false, maxRotation: 0, padding: p.tickPad * k, color: "#222", font: tickFont, callback: mmToM },
                title: { display: true, text: "r (m)", color: "#222", font: tickFont, padding: { top: 0, bottom: p.rTitlePad } }
              },
              y: {
                type: "linear", min: -130, max: 10,
                afterBuildTicks: (axis) => { axis.ticks = zTicks.map((v) => ({ value: v })); },
                afterFit: (axis) => { axis.width = p.plotLeft; axis.paddingTop = 0; axis.paddingBottom = 0; },
                grid: { drawOnChartArea: false, tickLength: 7 * k, tickColor: "#333" },
                border: { display: false },
                ticks: { autoSkip: false, padding: 10 * k, color: "#222", font: tickFont, callback: mmToM },
                title: { display: true, text: "z (m)", color: "#222", font: tickFont, padding: { top: p.titlePad, bottom: 0 } }
              }
            }
          }
        });

        // labels inside the black area and the panel caption
        const noteSize = 19.6 * k;
        addNote(p.noteL, p.noteTop, noteSize, p.tempL, "DC: 5 mm s");
        addNote(p.noteR, p.noteTop, noteSize, p.tempR, "US-DC: 0.5 m s");
        const cap = document.createElement("div");
        cap.className = "caption";
        cap.style.left = p.captionX + "px";
        cap.style.top = p.captionY + "px";
        cap.textContent = p.caption;
        page.appendChild(cap);
      }

      function addNote(x, top, size, temp, speed) {
        const n = document.createElement("div");
        n.className = "note";
        n.style.left = x + "px";
        n.style.top = top + "px";
        n.style.fontSize = size + "px";
        n.style.lineHeight = size * 1.17 + "px";
        n.innerHTML = `T<sub><i>in</i></sub> = ${temp} °C<br>${speed}<sup>\u22121</sup>`;
        page.appendChild(n);
      }

      function legendLabels() {
        const t = "<i>T</i>";
        const f = (v) => v.toFixed(1);
        const labels = [`${t} ≤ ${f(tempEdges[0])}`];
        for (let i = 1; i < tempEdges.length; i++) {
          labels.push(`${f(tempEdges[i - 1])} &lt; ${t} ≤ ${f(tempEdges[i])}`);
        }
        labels.push(`${t} &gt; ${f(tempEdges[tempEdges.length - 1])}`);
        return labels;
      }

      function drawLegend(box) {
        const el = document.createElement("div");
        el.className = "legend";
        el.style.cssText = `left:${box.left}px;top:${box.top}px;width:${box.width}px;height:${box.height}px;font-size:${box.font}px;`;
        const head = document.createElement("div");
        head.innerHTML = "<i>T</i> °C";
        head.style.cssText = `left:0;width:100%;text-align:center;top:${box.titleY - box.top - box.font * 0.7}px;`;
        el.appendChild(head);
        legendLabels().forEach((label, i) => {
          const y = box.firstRow + i * box.rowStep - box.top;
          const patch = document.createElement("div");
          patch.style.cssText = `left:${box.patchX - box.left}px;top:${y - box.patchH / 2}px;width:${box.patchW}px;height:${box.patchH}px;background:${bandColors[i]};`;
          el.appendChild(patch);
          const text = document.createElement("div");
          text.innerHTML = label;
          text.style.cssText = `left:${box.textX - box.left}px;top:${y - box.font * 0.62}px;line-height:${box.font * 1.2}px;`;
          el.appendChild(text);
        });
        page.appendChild(el);
      }

      panels.forEach(drawPanel);
      drawLegend({ left: 758, top: 96, width: 257, height: 311, font: 19.6, titleY: 113, firstRow: 143.3, rowStep: 30.45, patchX: 767, patchW: 41, patchH: 14, textX: 826 });
      drawLegend({ left: 418, top: 752, width: 145, height: 174, font: 11, titleY: 761, firstRow: 778.3, rowStep: 17.12, patchX: 423, patchW: 24, patchH: 8, textX: 457 });
      drawLegend({ left: 997, top: 752, width: 150, height: 174, font: 11, titleY: 761, firstRow: 778.3, rowStep: 17.12, patchX: 1002, patchW: 23, patchH: 8, textX: 1035 });
    </script>
  </body>
</html>
